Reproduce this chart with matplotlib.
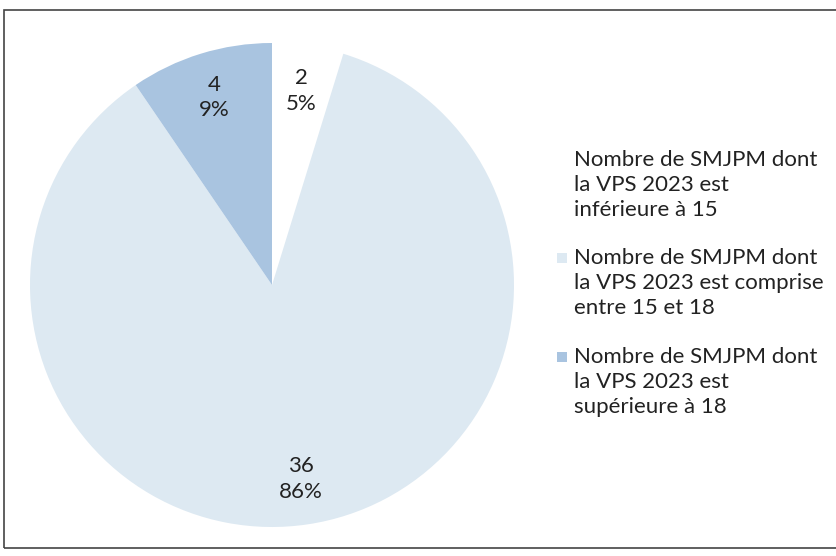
import matplotlib
matplotlib.use("Agg")
import matplotlib.pyplot as plt
from matplotlib.patches import Rectangle

categories = [
    "Nombre de SMJPM dont\nla VPS 2023 est\ninférieure à 15",
    "Nombre de SMJPM dont\nla VPS 2023 est comprise\nentre 15 et 18",
    "Nombre de SMJPM dont\nla VPS 2023 est\nsupérieure à 18",
]
values = [2, 36, 4]
percent_labels = ["5%", "86%", "9%"]
colors = ["#ffffff", "#dde9f2", "#a9c4e0"]

plt.rcParams["font.family"] = ["Lato", "DejaVu Sans"]
W, H = 837, 556
fig = plt.figure(figsize=(W / 100, H / 100), dpi=100)
fig.patch.set_facecolor("white")

# frame
fig.patches.append(Rectangle((4 / W, 8 / H), 1.0, (548 - 10) / H, transform=fig.transFigure,
                             fill=False, edgecolor="#444444", linewidth=1.2))

cx, cy, r = 272, 285, 242
ax = fig.add_axes([(cx - r) / W, (H - cy - r) / H, 2 * r / W, 2 * r / H])
wedges, texts = ax.pie(values, colors=colors, startangle=90, counterclock=False,
                       labels=[f"{v}\n{p}" for v, p in zip(values, percent_labels)],
                       labeldistance=0.81, wedgeprops=dict(linewidth=0),
                       textprops=dict(fontsize=16, color="#222222", ha="center", va="center",
                                      linespacing=1.34))
ax.set_xlim(-1, 1)
ax.set_ylim(-1, 1)
ax.set_aspect("equal")
ax.axis("off")

# legend (manual, marker aligned with first line)
tops = [160, 258, 357]
for cat, col, y in zip(categories, colors, tops):
    if col.lower() != "#ffffff":
        fig.patches.append(Rectangle((557 / W, (H - y - 5) / H), 10 / W, 10 / H,
                                     transform=fig.transFigure, facecolor=col, edgecolor="none"))
    fig.text(574 / W, (H - y + 10) / H, cat, fontsize=16, color="#222222",
             ha="left", va="top", linespacing=1.32)

fig.savefig("out.png", dpi=100)
